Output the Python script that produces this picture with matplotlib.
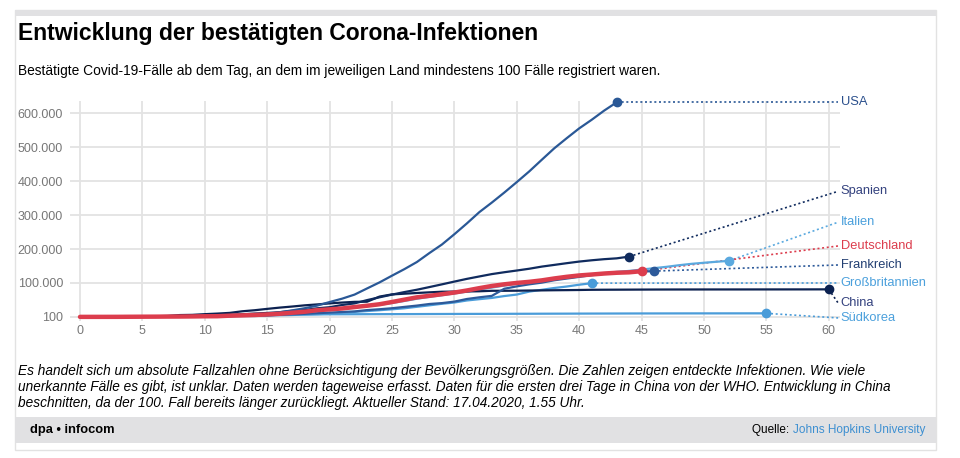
import matplotlib
matplotlib.use('Agg')
import matplotlib.pyplot as plt
import matplotlib.patches as mpatches
from matplotlib.ticker import FuncFormatter

plt.rcParams['font.family'] = ['Liberation Sans', 'DejaVu Sans']

# Fallzahlen je Tag ab dem 100. Fall (Tag 0)
usa = [124, 158, 221, 319, 435, 541, 704, 994, 1301, 1630, 2183, 2770, 3613, 4596, 6344,
       7869, 13748, 19273, 25600, 33276, 43843, 53736, 65778, 83836, 101657, 121478, 140886,
       161807, 188172, 213242, 243622, 275367, 308650, 336802, 366317, 397121, 428654,
       462780, 496535, 526396, 555313, 580619, 607670, 632000]
spanien = [120, 165, 222, 259, 400, 500, 673, 1073, 1695, 2277, 2277, 5232, 6391, 7798, 9942,
           11748, 13910, 17963, 20410, 25374, 28603, 35136, 39885, 49515, 57786, 65719, 73235,
           80110, 87956, 95923, 104118, 112065, 119199, 126168, 131646, 136675, 141942, 148220,
           153222, 158273, 163027, 166831, 170099, 172541, 177644]
italien = [155, 229, 322, 453, 655, 888, 1128, 1694, 2036, 2502, 3089, 3858, 4636, 5883, 7375,
           9172, 10149, 12462, 12462, 17660, 21157, 24747, 27980, 31506, 35713, 41035, 47021,
           53578, 59138, 63927, 69176, 74386, 80589, 86498, 92472, 97689, 101739, 105792,
           110574, 115242, 119827, 124632, 128948, 132547, 135586, 139422, 143626, 147577,
           152271, 156363, 159516, 162488, 165155]
deutschland = [130, 159, 196, 262, 482, 670, 799, 1040, 1176, 1457, 1908, 2078, 3675, 4585,
               5795, 7272, 9257, 12327, 15320, 19848, 22213, 24873, 29056, 32986, 37323, 43938,
               50871, 57695, 62095, 66885, 71808, 77872, 84794, 91159, 96092, 100123, 103374,
               107663, 113296, 118181, 122171, 124908, 127854, 130072, 131359, 134753]
frankreich = [100, 130, 191, 204, 288, 380, 656, 959, 1136, 1219, 1794, 2293, 2293, 3681, 4496,
              4532, 6683, 7715, 9124, 10970, 12758, 14463, 16243, 20123, 22622, 25600, 29551,
              33402, 38105, 40708, 45170, 52827, 57749, 62000, 83000, 90000, 96000, 101000,
              108000, 113000, 118000, 123000, 127000, 130000, 132000, 133500, 135000]
grossbritannien = [116, 164, 207, 274, 322, 384, 459, 459, 802, 1144, 1145, 1551, 1960, 2642,
                   2716, 4014, 5067, 5741, 6726, 8164, 9640, 11812, 14745, 17312, 19780, 22453,
                   25481, 29865, 34173, 38689, 42477, 48436, 52279, 55949, 61474, 65872, 74605,
                   79874, 85206, 89570, 94845, 99483]
china = [282, 314, 581, 643, 920, 1406, 2075, 2877, 5509, 6087, 8141, 9802, 11891, 16630, 19716,
         23707, 27440, 30587, 34110, 36814, 39829, 42354, 44386, 44759, 59895, 66358, 68413,
         70513, 72434, 74211, 74619, 75077, 75550, 77001, 77022, 77241, 77754, 78166, 78600,
         78928, 79356, 79932, 80136, 80261, 80386, 80537, 80690, 80770, 80823, 80860, 80887,
         80921, 80932, 80945, 80977, 81003, 81033, 81058, 81102, 81156, 81250]
suedkorea = [104, 204, 433, 602, 833, 977, 1261, 1766, 2337, 3150, 3736, 4335, 5186, 5621, 6088,
             6593, 7041, 7314, 7478, 7513, 7755, 7869, 7979, 8086, 8162, 8236, 8320, 8413, 8565,
             8652, 8799, 8897, 8961, 9037, 9137, 9241, 9332, 9478, 9583, 9661, 9786, 9887, 9976,
             10062, 10156, 10237, 10284, 10331, 10384, 10423, 10450, 10480, 10512, 10537, 10564,
             10591]

# Position der Beschriftung rechts (y-Wert)
laender = ['Südkorea', 'Großbritannien', 'Italien', 'China', 'Frankreich', 'Spanien', 'USA', 'Deutschland']
serien = [suedkorea, grossbritannien, italien, china, frankreich, spanien, usa, deutschland]
label_y = [-3000, 100000, 279000, 41000, 153000, 370000, 632000, 209000]

farben = {
    'USA': '#2a5896', 'Spanien': '#102b5e', 'Italien': '#5aa9df', 'Deutschland': '#dc3d4d',
    'Frankreich': '#2d5a9a', 'Großbritannien': '#4a9cd9', 'China': '#0c2150', 'Südkorea': '#4a9cd9',
}
textfarben = {
    'USA': '#2a4f8c', 'Spanien': '#34427f', 'Italien': '#4ba0dc', 'Deutschland': '#dc3d4d',
    'Frankreich': '#223f72', 'Großbritannien': '#4ba0dc', 'China': '#34427f', 'Südkorea': '#4ba0dc',
}

fig = plt.figure(figsize=(9.6, 4.58), dpi=100)
W, H = 960, 458

def fx(px):
    return px / W

def fy(py):
    return 1 - py / H

# Rahmen, Kopf- und Fußleiste
fig.patches.append(mpatches.Rectangle((fx(15), fy(450)), fx(921), 440 / H, transform=fig.transFigure,
                                      facecolor='white', edgecolor='#e2e2e2', lw=1, zorder=-2))
fig.patches.append(mpatches.Rectangle((fx(15), fy(16)), fx(921), 6 / H, transform=fig.transFigure,
                                      facecolor='#e1e1e3', edgecolor='none', zorder=-1))
fig.patches.append(mpatches.Rectangle((fx(15), fy(443)), fx(921), 26 / H, transform=fig.transFigure,
                                      facecolor='#e1e1e3', edgecolor='none', zorder=-1))

fig.text(fx(18), fy(40), 'Entwicklung der bestätigten Corona-Infektionen', fontsize=16.5,
         fontweight='bold', va='baseline', ha='left')
fig.text(fx(18), fy(75), 'Bestätigte Covid-19-Fälle ab dem Tag, an dem im jeweiligen Land '
         'mindestens 100 Fälle registriert waren.', fontsize=9.9, va='baseline', ha='left')

fussnote = ('Es handelt sich um absolute Fallzahlen ohne Berücksichtigung der Bevölkerungsgrößen. '
            'Die Zahlen zeigen entdeckte Infektionen. Wie viele\n'
            'unerkannte Fälle es gibt, ist unklar. Daten werden tageweise erfasst. Daten für die '
            'ersten drei Tage in China von der WHO. Entwicklung in China\n'
            'beschnitten, da der 100. Fall bereits länger zurückliegt. Aktueller Stand: 17.04.2020, 1.55 Uhr.')
fig.text(fx(18), fy(364), fussnote, fontsize=9.8, style='italic', va='top', ha='left', linespacing=1.2)

fig.text(fx(30), fy(430), 'dpa • infocom', fontsize=9.3, fontweight='bold', va='center', ha='left')
quelle = fig.text(fx(925), fy(430), 'Johns Hopkins University', fontsize=8.5, color='#3d8fd1',
                  va='center', ha='right')

# Diagramm
ax = fig.add_axes([fx(70), fy(321), fx(770), 220 / H])
ax.set_zorder(2)
ax.patch.set_alpha(0)
for s in ax.spines.values():
    s.set_visible(False)

for name, werte, ly in zip(laender, serien, label_y):
    tage = list(range(len(werte)))
    breite = 3.2 if name == 'Deutschland' else 1.6
    ax.plot(tage, werte, color=farben[name], lw=breite, solid_capstyle='round', zorder=3,
            clip_on=False)
    ax.plot(tage[-1], werte[-1], 'o', color=farben[name], ms=6, zorder=4, clip_on=False)
    ax.plot([tage[-1], 60.75], [werte[-1], ly], linestyle=(0, (1.2, 1.6)), color=farben[name],
            lw=1.2, zorder=2, clip_on=False)
    ax.text(60.95, ly, name, color=textfarben[name], fontsize=9.3, va='center', ha='left',
            clip_on=False)

ax.set_xlim(-0.8, 60.9)
ax.set_ylim(-12000, 636000)
ax.set_xticks(range(0, 61, 5))
ax.set_yticks([100, 100000, 200000, 300000, 400000, 500000, 600000])
ax.yaxis.set_major_formatter(FuncFormatter(lambda v, p: f'{int(v):,}'.replace(',', '.')))
ax.tick_params(length=0, labelsize=9, labelcolor='#777777')
ax.tick_params(axis='y', pad=5)
ax.tick_params(axis='x', pad=3)
ax.grid(True, color='#e3e3e3', lw=1.3)
ax.set_axisbelow(True)

# "Quelle:" links neben dem Link
fig.canvas.draw()
bb = quelle.get_window_extent()
fig.text(bb.x0 / W, fy(430), 'Quelle: ', fontsize=8.5, color='black', va='center', ha='right')

fig.savefig('out.png', dpi=100)
